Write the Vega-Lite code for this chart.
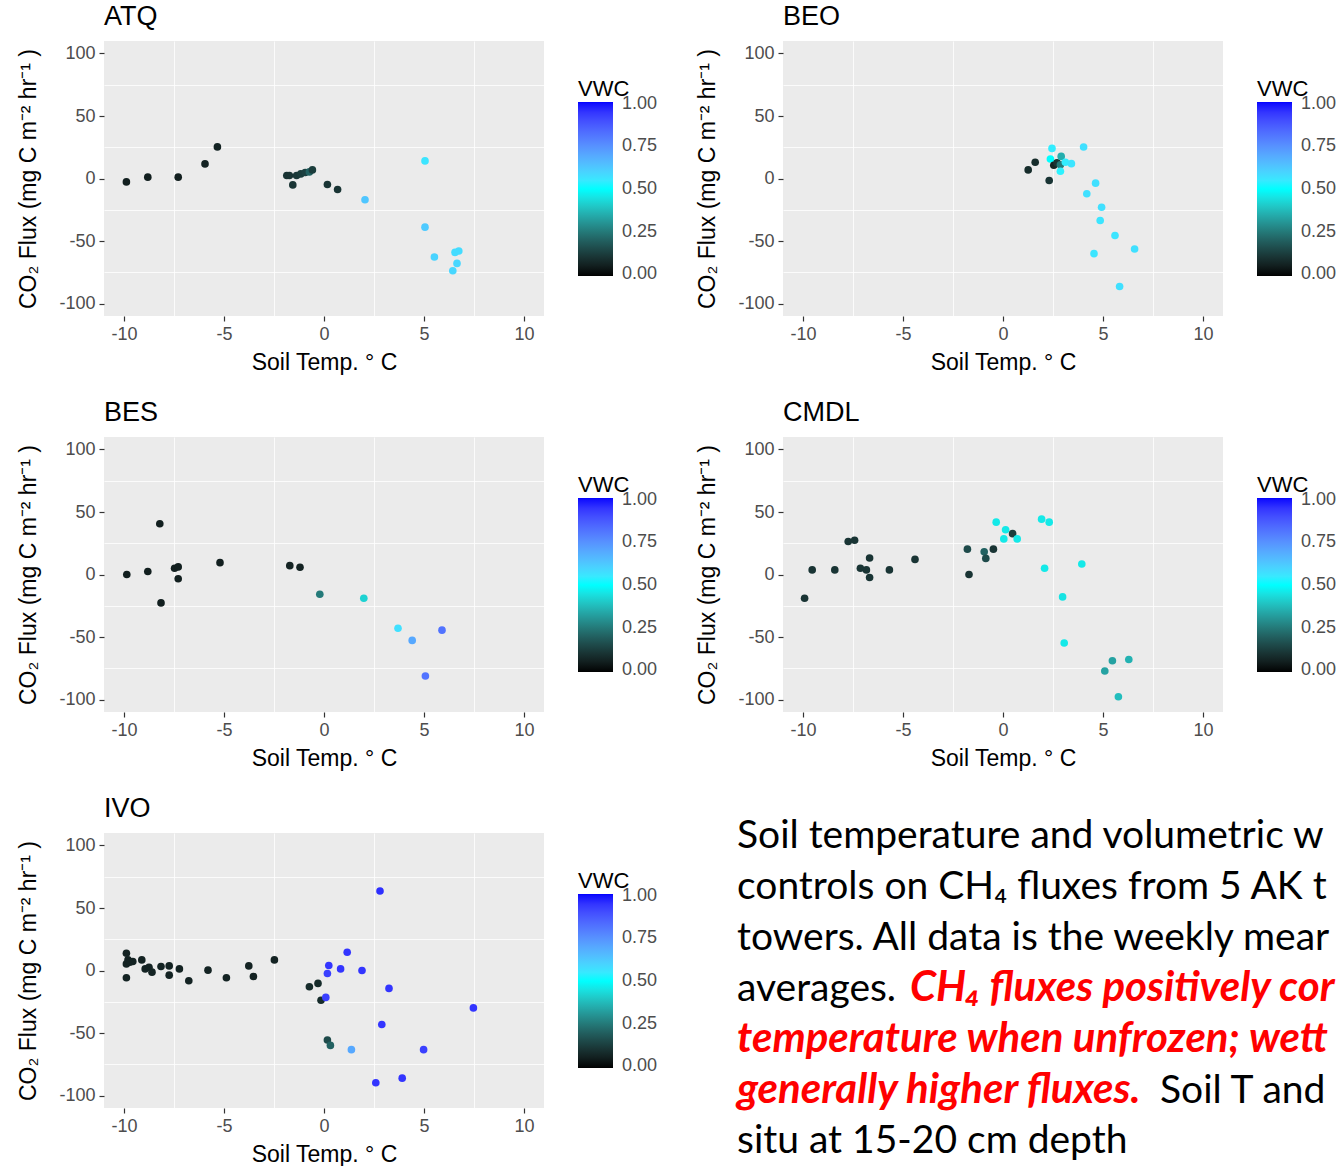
{
  "$schema": "https://vega.github.io/schema/vega-lite/v6.json",
  "padding": {"left": 17, "top": 3, "right": 0, "bottom": 0},
  "background": "white",
  "config": {
    "locale": {"number": {"decimal": ".", "thousands": ",", "grouping": [3], "currency": ["$", ""], "minus": "-"}},
    "font": "Liberation Sans",
    "view": {"stroke": null},
    "axis": {
      "labelFont": "Liberation Sans", "labelFontSize": 18, "labelColor": "#4D4D4D",
      "titleFont": "Liberation Sans", "titleFontSize": 23, "titleColor": "black", "titleFontWeight": "normal",
      "tickColor": "#333333", "tickSize": 5, "tickWidth": 1.2, "domain": false,
      "gridColor": "white", "gridWidth": 1.8, "labelPadding": 4
    },
    "title": {"font": "Liberation Sans", "fontSize": 27, "fontWeight": "normal", "color": "black", "anchor": "start", "frame": "group", "offset": 10},
    "legend": {"titleFont": "Liberation Sans", "labelFont": "Liberation Sans"}
  },
  "datasets": {
    "flux": [
      {"site":"ATQ","temp":-9.88,"flux":-2.7,"vwc":0.05},{"site":"ATQ","temp":-8.81,"flux":1.1,"vwc":0.05},{"site":"ATQ","temp":-7.29,"flux":1.1,"vwc":0.05},{"site":"ATQ","temp":-5.95,"flux":11.7,"vwc":0.06},{"site":"ATQ","temp":-5.33,"flux":25.3,"vwc":0.06},{"site":"ATQ","temp":-1.86,"flux":2.4,"vwc":0.1},{"site":"ATQ","temp":-1.73,"flux":2.4,"vwc":0.1},{"site":"ATQ","temp":-1.56,"flux":-5.1,"vwc":0.1},{"site":"ATQ","temp":-1.37,"flux":2.4,"vwc":0.11},{"site":"ATQ","temp":-1.16,"flux":3.7,"vwc":0.12},{"site":"ATQ","temp":-0.94,"flux":4.8,"vwc":0.13},{"site":"ATQ","temp":-0.73,"flux":5.3,"vwc":0.2},{"site":"ATQ","temp":-0.58,"flux":6.9,"vwc":0.12},{"site":"ATQ","temp":0.17,"flux":-4.8,"vwc":0.1},{"site":"ATQ","temp":0.68,"flux":-8.8,"vwc":0.1},{"site":"ATQ","temp":2.05,"flux":-17,"vwc":0.63},{"site":"ATQ","temp":5.05,"flux":14.1,"vwc":0.56},{"site":"ATQ","temp":5.05,"flux":-38.9,"vwc":0.62},{"site":"ATQ","temp":5.52,"flux":-62.8,"vwc":0.6},{"site":"ATQ","temp":6.55,"flux":-59.1,"vwc":0.58},{"site":"ATQ","temp":6.74,"flux":-58,"vwc":0.58},{"site":"ATQ","temp":6.65,"flux":-67.9,"vwc":0.59},{"site":"ATQ","temp":6.44,"flux":-73.8,"vwc":0.59},
      {"site":"BEO","temp":1.26,"flux":6.9,"vwc":0.08},{"site":"BEO","temp":1.61,"flux":13,"vwc":0.08},{"site":"BEO","temp":2.31,"flux":-1.6,"vwc":0.1},{"site":"BEO","temp":2.45,"flux":24.1,"vwc":0.54},{"site":"BEO","temp":2.37,"flux":15.6,"vwc":0.5},{"site":"BEO","temp":2.54,"flux":10.6,"vwc":0.06},{"site":"BEO","temp":2.7,"flux":12.5,"vwc":0.1},{"site":"BEO","temp":2.91,"flux":17.7,"vwc":0.35},{"site":"BEO","temp":2.87,"flux":11,"vwc":0.25},{"site":"BEO","temp":2.87,"flux":5.8,"vwc":0.53},{"site":"BEO","temp":3.12,"flux":13,"vwc":0.54},{"site":"BEO","temp":3.42,"flux":11.9,"vwc":0.56},{"site":"BEO","temp":4.03,"flux":25.2,"vwc":0.57},{"site":"BEO","temp":4.63,"flux":-3.7,"vwc":0.57},{"site":"BEO","temp":4.19,"flux":-12.2,"vwc":0.57},{"site":"BEO","temp":4.93,"flux":-23,"vwc":0.57},{"site":"BEO","temp":4.86,"flux":-33.6,"vwc":0.56},{"site":"BEO","temp":5.6,"flux":-45.6,"vwc":0.56},{"site":"BEO","temp":4.55,"flux":-60.1,"vwc":0.56},{"site":"BEO","temp":6.58,"flux":-56.4,"vwc":0.57},{"site":"BEO","temp":5.83,"flux":-86.4,"vwc":0.57},
      {"site":"BES","temp":-9.86,"flux":0,"vwc":0.05},{"site":"BES","temp":-8.81,"flux":2.4,"vwc":0.05},{"site":"BES","temp":-8.21,"flux":40.6,"vwc":0.05},{"site":"BES","temp":-8.15,"flux":-22.7,"vwc":0.05},{"site":"BES","temp":-7.47,"flux":5,"vwc":0.05},{"site":"BES","temp":-7.29,"flux":6.1,"vwc":0.05},{"site":"BES","temp":-7.29,"flux":-3.4,"vwc":0.05},{"site":"BES","temp":-5.2,"flux":9.5,"vwc":0.05},{"site":"BES","temp":-1.71,"flux":7.1,"vwc":0.06},{"site":"BES","temp":-1.2,"flux":5.8,"vwc":0.06},{"site":"BES","temp":-0.21,"flux":-15.8,"vwc":0.25},{"site":"BES","temp":1.99,"flux":-19,"vwc":0.42},{"site":"BES","temp":3.7,"flux":-43,"vwc":0.57},{"site":"BES","temp":4.41,"flux":-52.7,"vwc":0.7},{"site":"BES","temp":5.9,"flux":-44.5,"vwc":0.82},{"site":"BES","temp":5.07,"flux":-81.2,"vwc":0.82},
      {"site":"CMDL","temp":-9.92,"flux":-19,"vwc":0.1},{"site":"CMDL","temp":-9.54,"flux":3.7,"vwc":0.1},{"site":"CMDL","temp":-8.41,"flux":3.7,"vwc":0.1},{"site":"CMDL","temp":-7.74,"flux":26.4,"vwc":0.1},{"site":"CMDL","temp":-7.42,"flux":27.4,"vwc":0.1},{"site":"CMDL","temp":-7.13,"flux":5,"vwc":0.1},{"site":"CMDL","temp":-6.83,"flux":3.7,"vwc":0.1},{"site":"CMDL","temp":-6.67,"flux":13.2,"vwc":0.1},{"site":"CMDL","temp":-6.67,"flux":-2.4,"vwc":0.1},{"site":"CMDL","temp":-5.68,"flux":3.7,"vwc":0.1},{"site":"CMDL","temp":-4.4,"flux":12.1,"vwc":0.1},{"site":"CMDL","temp":-1.78,"flux":20.3,"vwc":0.15},{"site":"CMDL","temp":-1.7,"flux":0,"vwc":0.1},{"site":"CMDL","temp":-0.94,"flux":18.2,"vwc":0.2},{"site":"CMDL","temp":-0.86,"flux":12.9,"vwc":0.15},{"site":"CMDL","temp":-0.48,"flux":20.3,"vwc":0.1},{"site":"CMDL","temp":-0.34,"flux":41.9,"vwc":0.46},{"site":"CMDL","temp":0.13,"flux":35.8,"vwc":0.46},{"site":"CMDL","temp":0.04,"flux":28.5,"vwc":0.46},{"site":"CMDL","temp":0.48,"flux":32.7,"vwc":0.12},{"site":"CMDL","temp":0.71,"flux":28.5,"vwc":0.46},{"site":"CMDL","temp":1.93,"flux":44.3,"vwc":0.46},{"site":"CMDL","temp":2.31,"flux":41.9,"vwc":0.46},{"site":"CMDL","temp":2.08,"flux":5,"vwc":0.46},{"site":"CMDL","temp":3.94,"flux":8.4,"vwc":0.46},{"site":"CMDL","temp":2.98,"flux":-17.9,"vwc":0.45},{"site":"CMDL","temp":3.06,"flux":-54.8,"vwc":0.46},{"site":"CMDL","temp":5.09,"flux":-77.2,"vwc":0.33},{"site":"CMDL","temp":5.47,"flux":-69,"vwc":0.33},{"site":"CMDL","temp":6.29,"flux":-68,"vwc":0.36},{"site":"CMDL","temp":5.77,"flux":-97.8,"vwc":0.38},
      {"site":"IVO","temp":-9.88,"flux":13.8,"vwc":0.06},{"site":"IVO","temp":-9.88,"flux":5.3,"vwc":0.06},{"site":"IVO","temp":-9.8,"flux":8.5,"vwc":0.06},{"site":"IVO","temp":-9.71,"flux":6.6,"vwc":0.06},{"site":"IVO","temp":-9.56,"flux":7.2,"vwc":0.06},{"site":"IVO","temp":-9.88,"flux":-5.8,"vwc":0.06},{"site":"IVO","temp":-9.11,"flux":8.5,"vwc":0.06},{"site":"IVO","temp":-8.94,"flux":1.3,"vwc":0.06},{"site":"IVO","temp":-8.75,"flux":2.6,"vwc":0.06},{"site":"IVO","temp":-8.6,"flux":-1.3,"vwc":0.06},{"site":"IVO","temp":-8.15,"flux":3.2,"vwc":0.06},{"site":"IVO","temp":-7.74,"flux":3.7,"vwc":0.06},{"site":"IVO","temp":-7.74,"flux":-3.7,"vwc":0.06},{"site":"IVO","temp":-7.23,"flux":1.3,"vwc":0.06},{"site":"IVO","temp":-6.76,"flux":-8.2,"vwc":0.06},{"site":"IVO","temp":-5.8,"flux":0.3,"vwc":0.06},{"site":"IVO","temp":-4.88,"flux":-5.8,"vwc":0.06},{"site":"IVO","temp":-3.76,"flux":3.7,"vwc":0.06},{"site":"IVO","temp":-3.53,"flux":-4.8,"vwc":0.06},{"site":"IVO","temp":-2.48,"flux":8.5,"vwc":0.06},{"site":"IVO","temp":-0.73,"flux":-13,"vwc":0.08},{"site":"IVO","temp":-0.3,"flux":-10.3,"vwc":0.08},{"site":"IVO","temp":-0.15,"flux":-23.8,"vwc":0.08},{"site":"IVO","temp":0.09,"flux":-21.5,"vwc":0.93},{"site":"IVO","temp":0.17,"flux":-2.4,"vwc":0.93},{"site":"IVO","temp":0.24,"flux":4,"vwc":0.95},{"site":"IVO","temp":0.83,"flux":1.3,"vwc":0.95},{"site":"IVO","temp":1.16,"flux":14.6,"vwc":0.95},{"site":"IVO","temp":1.9,"flux":0,"vwc":0.95},{"site":"IVO","temp":2.8,"flux":63.6,"vwc":0.96},{"site":"IVO","temp":3.25,"flux":-14.3,"vwc":0.95},{"site":"IVO","temp":2.89,"flux":-43.2,"vwc":0.95},{"site":"IVO","temp":7.47,"flux":-29.9,"vwc":0.95},{"site":"IVO","temp":0.17,"flux":-55.6,"vwc":0.15},{"site":"IVO","temp":0.32,"flux":-59.9,"vwc":0.2},{"site":"IVO","temp":1.37,"flux":-63.3,"vwc":0.7},{"site":"IVO","temp":4.98,"flux":-63.3,"vwc":0.93},{"site":"IVO","temp":3.91,"flux":-86.1,"vwc":0.95},{"site":"IVO","temp":2.59,"flux":-89.8,"vwc":0.95}
    ],
    "notes": [
      {"line":1,"start":0,"part":"plain","text":"Soil temperature and volumetric w"},
      {"line":2,"start":0,"part":"plain","text":"controls on CH₄ fluxes from 5 AK t"},
      {"line":3,"start":0,"part":"plain","text":"towers. All data is the weekly mear"},
      {"line":4,"start":0,"part":"plain","text":"averages."},
      {"line":4,"start":173,"part":"highlight","text":"CH₄ fluxes positively cor"},
      {"line":5,"start":0,"part":"highlight","text":"temperature when unfrozen; wett"},
      {"line":6,"start":0,"part":"highlight","text":"generally higher fluxes."},
      {"line":6,"start":423,"part":"plain","text":"Soil T and"},
      {"line":7,"start":0,"part":"plain","text":"situ at 15-20 cm depth"}
    ]
  },
  "resolve": {"scale": {"color": "independent"}, "legend": {"color": "independent"}},
  "bounds": "flush",
  "columns": 2,
  "spacing": {"row": 121, "column": 239},
  "concat": [
    {
      "title": "ATQ", "width": 440, "height": 275, "view": {"fill": "#EBEBEB", "stroke": null},
      "data": {"name": "flux"}, "transform": [{"filter": "datum.site === 'ATQ'"}],
      "resolve": {"axis": {"x": "independent", "y": "independent"}},
      "layer": [
        {"mark": {"type": "circle", "opacity": 0},
         "encoding": {
           "x": {"field": "temp", "type": "quantitative", "scale": {"domain": [-11, 11], "nice": false, "zero": false}, "axis": {"orient": "top", "values": [-7.5, -2.5, 2.5, 7.5], "labels": false, "ticks": false, "domain": false, "title": null, "gridWidth": 0.8}},
           "y": {"field": "flux", "type": "quantitative", "scale": {"domain": [-110, 110], "nice": false, "zero": false}, "axis": {"orient": "right", "values": [-75, -25, 25, 75], "labels": false, "ticks": false, "domain": false, "title": null, "gridWidth": 0.8}}}},
        {"mark": {"type": "circle", "size": 58, "opacity": 1},
         "encoding": {
           "x": {"field": "temp", "type": "quantitative", "scale": {"domain": [-11, 11], "nice": false, "zero": false}, "axis": {"orient": "bottom", "values": [-10, -5, 0, 5, 10], "title": "Soil Temp. ° C", "titlePadding": 8}},
           "y": {"field": "flux", "type": "quantitative", "scale": {"domain": [-110, 110], "nice": false, "zero": false}, "axis": {"orient": "left", "values": [-100, -50, 0, 50, 100], "title": "CO₂ Flux (mg C m⁻² hr⁻¹ )", "titlePadding": 18}},
           "color": {"field": "vwc", "type": "quantitative", "scale": {"domain": [-0.01, 0.5, 1.01], "range": ["black", "cyan", "blue"], "interpolate": "lab"},
             "legend": {"orient": "none", "legendX": 474, "legendY": 38, "direction": "vertical", "gradientLength": 174, "gradientThickness": 35, "values": [0, 0.25, 0.5, 0.75, 1], "format": ".2f", "title": "VWC", "titleFontSize": 22, "titleColor": "black", "titleFontWeight": "normal", "titlePadding": 1, "labelFontSize": 18, "labelColor": "#4D4D4D", "labelOffset": 9, "labelBaseline": "middle", "gradientStrokeWidth": 0}}}}
      ]
    },
    {
      "title": "BEO", "width": 440, "height": 275, "view": {"fill": "#EBEBEB", "stroke": null},
      "data": {"name": "flux"}, "transform": [{"filter": "datum.site === 'BEO'"}],
      "resolve": {"axis": {"x": "independent", "y": "independent"}},
      "layer": [
        {"mark": {"type": "circle", "opacity": 0},
         "encoding": {
           "x": {"field": "temp", "type": "quantitative", "scale": {"domain": [-11, 11], "nice": false, "zero": false}, "axis": {"orient": "top", "values": [-7.5, -2.5, 2.5, 7.5], "labels": false, "ticks": false, "domain": false, "title": null, "gridWidth": 0.8}},
           "y": {"field": "flux", "type": "quantitative", "scale": {"domain": [-110, 110], "nice": false, "zero": false}, "axis": {"orient": "right", "values": [-75, -25, 25, 75], "labels": false, "ticks": false, "domain": false, "title": null, "gridWidth": 0.8}}}},
        {"mark": {"type": "circle", "size": 58, "opacity": 1},
         "encoding": {
           "x": {"field": "temp", "type": "quantitative", "scale": {"domain": [-11, 11], "nice": false, "zero": false}, "axis": {"orient": "bottom", "values": [-10, -5, 0, 5, 10], "title": "Soil Temp. ° C", "titlePadding": 8}},
           "y": {"field": "flux", "type": "quantitative", "scale": {"domain": [-110, 110], "nice": false, "zero": false}, "axis": {"orient": "left", "values": [-100, -50, 0, 50, 100], "title": "CO₂ Flux (mg C m⁻² hr⁻¹ )", "titlePadding": 18}},
           "color": {"field": "vwc", "type": "quantitative", "scale": {"domain": [-0.01, 0.5, 1.01], "range": ["black", "cyan", "blue"], "interpolate": "lab"},
             "legend": {"orient": "none", "legendX": 474, "legendY": 38, "direction": "vertical", "gradientLength": 174, "gradientThickness": 35, "values": [0, 0.25, 0.5, 0.75, 1], "format": ".2f", "title": "VWC", "titleFontSize": 22, "titleColor": "black", "titleFontWeight": "normal", "titlePadding": 1, "labelFontSize": 18, "labelColor": "#4D4D4D", "labelOffset": 9, "labelBaseline": "middle", "gradientStrokeWidth": 0}}}}
      ]
    },
    {
      "title": "BES", "width": 440, "height": 275, "view": {"fill": "#EBEBEB", "stroke": null},
      "data": {"name": "flux"}, "transform": [{"filter": "datum.site === 'BES'"}],
      "resolve": {"axis": {"x": "independent", "y": "independent"}},
      "layer": [
        {"mark": {"type": "circle", "opacity": 0},
         "encoding": {
           "x": {"field": "temp", "type": "quantitative", "scale": {"domain": [-11, 11], "nice": false, "zero": false}, "axis": {"orient": "top", "values": [-7.5, -2.5, 2.5, 7.5], "labels": false, "ticks": false, "domain": false, "title": null, "gridWidth": 0.8}},
           "y": {"field": "flux", "type": "quantitative", "scale": {"domain": [-110, 110], "nice": false, "zero": false}, "axis": {"orient": "right", "values": [-75, -25, 25, 75], "labels": false, "ticks": false, "domain": false, "title": null, "gridWidth": 0.8}}}},
        {"mark": {"type": "circle", "size": 58, "opacity": 1},
         "encoding": {
           "x": {"field": "temp", "type": "quantitative", "scale": {"domain": [-11, 11], "nice": false, "zero": false}, "axis": {"orient": "bottom", "values": [-10, -5, 0, 5, 10], "title": "Soil Temp. ° C", "titlePadding": 8}},
           "y": {"field": "flux", "type": "quantitative", "scale": {"domain": [-110, 110], "nice": false, "zero": false}, "axis": {"orient": "left", "values": [-100, -50, 0, 50, 100], "title": "CO₂ Flux (mg C m⁻² hr⁻¹ )", "titlePadding": 18}},
           "color": {"field": "vwc", "type": "quantitative", "scale": {"domain": [-0.01, 0.5, 1.01], "range": ["black", "cyan", "blue"], "interpolate": "lab"},
             "legend": {"orient": "none", "legendX": 474, "legendY": 38, "direction": "vertical", "gradientLength": 174, "gradientThickness": 35, "values": [0, 0.25, 0.5, 0.75, 1], "format": ".2f", "title": "VWC", "titleFontSize": 22, "titleColor": "black", "titleFontWeight": "normal", "titlePadding": 1, "labelFontSize": 18, "labelColor": "#4D4D4D", "labelOffset": 9, "labelBaseline": "middle", "gradientStrokeWidth": 0}}}}
      ]
    },
    {
      "title": "CMDL", "width": 440, "height": 275, "view": {"fill": "#EBEBEB", "stroke": null},
      "data": {"name": "flux"}, "transform": [{"filter": "datum.site === 'CMDL'"}],
      "resolve": {"axis": {"x": "independent", "y": "independent"}},
      "layer": [
        {"mark": {"type": "circle", "opacity": 0},
         "encoding": {
           "x": {"field": "temp", "type": "quantitative", "scale": {"domain": [-11, 11], "nice": false, "zero": false}, "axis": {"orient": "top", "values": [-7.5, -2.5, 2.5, 7.5], "labels": false, "ticks": false, "domain": false, "title": null, "gridWidth": 0.8}},
           "y": {"field": "flux", "type": "quantitative", "scale": {"domain": [-110, 110], "nice": false, "zero": false}, "axis": {"orient": "right", "values": [-75, -25, 25, 75], "labels": false, "ticks": false, "domain": false, "title": null, "gridWidth": 0.8}}}},
        {"mark": {"type": "circle", "size": 58, "opacity": 1},
         "encoding": {
           "x": {"field": "temp", "type": "quantitative", "scale": {"domain": [-11, 11], "nice": false, "zero": false}, "axis": {"orient": "bottom", "values": [-10, -5, 0, 5, 10], "title": "Soil Temp. ° C", "titlePadding": 8}},
           "y": {"field": "flux", "type": "quantitative", "scale": {"domain": [-110, 110], "nice": false, "zero": false}, "axis": {"orient": "left", "values": [-100, -50, 0, 50, 100], "title": "CO₂ Flux (mg C m⁻² hr⁻¹ )", "titlePadding": 18}},
           "color": {"field": "vwc", "type": "quantitative", "scale": {"domain": [-0.01, 0.5, 1.01], "range": ["black", "cyan", "blue"], "interpolate": "lab"},
             "legend": {"orient": "none", "legendX": 474, "legendY": 38, "direction": "vertical", "gradientLength": 174, "gradientThickness": 35, "values": [0, 0.25, 0.5, 0.75, 1], "format": ".2f", "title": "VWC", "titleFontSize": 22, "titleColor": "black", "titleFontWeight": "normal", "titlePadding": 1, "labelFontSize": 18, "labelColor": "#4D4D4D", "labelOffset": 9, "labelBaseline": "middle", "gradientStrokeWidth": 0}}}}
      ]
    },
    {
      "title": "IVO", "width": 440, "height": 275, "view": {"fill": "#EBEBEB", "stroke": null},
      "data": {"name": "flux"}, "transform": [{"filter": "datum.site === 'IVO'"}],
      "resolve": {"axis": {"x": "independent", "y": "independent"}},
      "layer": [
        {"mark": {"type": "circle", "opacity": 0},
         "encoding": {
           "x": {"field": "temp", "type": "quantitative", "scale": {"domain": [-11, 11], "nice": false, "zero": false}, "axis": {"orient": "top", "values": [-7.5, -2.5, 2.5, 7.5], "labels": false, "ticks": false, "domain": false, "title": null, "gridWidth": 0.8}},
           "y": {"field": "flux", "type": "quantitative", "scale": {"domain": [-110, 110], "nice": false, "zero": false}, "axis": {"orient": "right", "values": [-75, -25, 25, 75], "labels": false, "ticks": false, "domain": false, "title": null, "gridWidth": 0.8}}}},
        {"mark": {"type": "circle", "size": 58, "opacity": 1},
         "encoding": {
           "x": {"field": "temp", "type": "quantitative", "scale": {"domain": [-11, 11], "nice": false, "zero": false}, "axis": {"orient": "bottom", "values": [-10, -5, 0, 5, 10], "title": "Soil Temp. ° C", "titlePadding": 8}},
           "y": {"field": "flux", "type": "quantitative", "scale": {"domain": [-110, 110], "nice": false, "zero": false}, "axis": {"orient": "left", "values": [-100, -50, 0, 50, 100], "title": "CO₂ Flux (mg C m⁻² hr⁻¹ )", "titlePadding": 18}},
           "color": {"field": "vwc", "type": "quantitative", "scale": {"domain": [-0.01, 0.5, 1.01], "range": ["black", "cyan", "blue"], "interpolate": "lab"},
             "legend": {"orient": "none", "legendX": 474, "legendY": 38, "direction": "vertical", "gradientLength": 174, "gradientThickness": 35, "values": [0, 0.25, 0.5, 0.75, 1], "format": ".2f", "title": "VWC", "titleFontSize": 22, "titleColor": "black", "titleFontWeight": "normal", "titlePadding": 1, "labelFontSize": 18, "labelColor": "#4D4D4D", "labelOffset": 9, "labelBaseline": "middle", "gradientStrokeWidth": 0}}}}
      ]
    },
    {
      "width": 554, "height": 325, "view": {"fill": null, "stroke": null},
      "data": {"name": "notes"},
      "layer": [
        {"transform": [{"filter": "datum.part === 'plain'"}],
         "mark": {"type": "text", "font": "Lato", "fontSize": 39, "align": "left", "baseline": "alphabetic", "color": "black"},
         "encoding": {
           "x": {"field": "start", "type": "quantitative", "scale": {"domain": [46, 600], "nice": false, "zero": false}, "axis": null},
           "y": {"field": "line", "type": "quantitative", "scale": {"domain": [0.705, 7.09], "reverse": true, "nice": false, "zero": false}, "axis": null},
           "text": {"field": "text"}}},
        {"transform": [{"filter": "datum.part === 'highlight'"}],
         "mark": {"type": "text", "font": "Lato", "fontSize": 42, "fontStyle": "italic", "fontWeight": "bold", "align": "left", "baseline": "alphabetic", "color": "#FF0000"},
         "encoding": {
           "x": {"field": "start", "type": "quantitative", "scale": {"domain": [46, 600], "nice": false, "zero": false}, "axis": null},
           "y": {"field": "line", "type": "quantitative", "scale": {"domain": [0.705, 7.09], "reverse": true, "nice": false, "zero": false}, "axis": null},
           "text": {"field": "text"}}}
      ]
    }
  ]
}
